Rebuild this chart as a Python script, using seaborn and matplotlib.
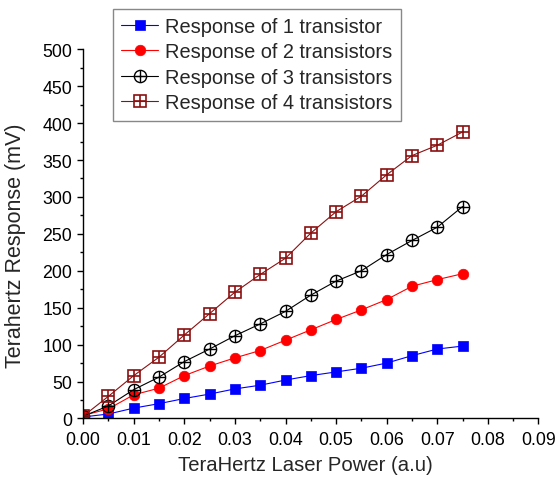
import numpy as np
import pandas as pd
import matplotlib
matplotlib.use("Agg")
import matplotlib.pyplot as plt
import seaborn as sns
from matplotlib.legend_handler import HandlerTuple
from matplotlib.ticker import MultipleLocator, FormatStrFormatter

# ---- data ----
power = [0.0, 0.005, 0.01, 0.015, 0.02, 0.025, 0.03, 0.035, 0.04, 0.045,
         0.05, 0.055, 0.06, 0.065, 0.07, 0.075]
resp_1 = [2, 6, 14, 20, 27, 33, 40, 45, 52, 58, 63, 68, 75, 85, 94, 98]
resp_2 = [4, 13, 32, 41, 58, 71, 82, 92, 106, 120, 134, 147, 161, 179, 188, 196]
resp_3 = [3, 17, 39, 56, 77, 94, 112, 128, 145, 167, 186, 200, 222, 241, 259, 287]
resp_4 = [3, 30, 58, 83, 113, 142, 171, 195, 217, 251, 280, 301, 330, 356, 370, 388]
labels = ["Response of 1 transistor", "Response of 2 transistors",
          "Response of 3 transistors", "Response of 4 transistors"]

sns.set_style("ticks")
plt.rcParams["font.family"] = ["Liberation Sans", "DejaVu Sans"]

fig = plt.figure(figsize=(5.58, 4.81), dpi=100)
ax = fig.add_axes([0.149, 0.128, 0.816, 0.7675])

df = pd.DataFrame({"power": power, "r1": resp_1, "r2": resp_2,
                   "r3": resp_3, "r4": resp_4})

blue, red, black, brown = "#0000FF", "#FF0000", "#000000", "#8B1010"

sns.lineplot(data=df, x="power", y="r1", ax=ax, color=blue, lw=0.8,
             marker="s", markersize=6.8, markerfacecolor=blue,
             markeredgecolor=blue, markeredgewidth=0.5)
sns.lineplot(data=df, x="power", y="r2", ax=ax, color=red, lw=0.8,
             marker="o", markersize=7.6, markerfacecolor=red,
             markeredgecolor=red, markeredgewidth=0.5)
sns.lineplot(data=df, x="power", y="r3", ax=ax, color=black, lw=0.8,
             marker="o", markersize=8.8, markerfacecolor="none",
             markeredgecolor=black, markeredgewidth=1.0)
sns.lineplot(data=df, x="power", y="r3", ax=ax, color=black, lw=0,
             marker="+", markersize=8.8, markeredgecolor=black,
             markeredgewidth=1.0)
sns.lineplot(data=df, x="power", y="r4", ax=ax, color=brown, lw=0.8,
             marker="s", markersize=8.0, markerfacecolor="none",
             markeredgecolor=brown, markeredgewidth=1.2)
sns.lineplot(data=df, x="power", y="r4", ax=ax, color=brown, lw=0,
             marker="+", markersize=8.0, markeredgecolor=brown,
             markeredgewidth=1.2)

lines = ax.get_lines()
handles = [lines[0], lines[1], (lines[2], lines[3]), (lines[4], lines[5])]

ax.set_xlim(0, 0.09)
ax.set_ylim(0, 500)
ax.xaxis.set_major_locator(MultipleLocator(0.01))
ax.xaxis.set_minor_locator(MultipleLocator(0.005))
ax.yaxis.set_major_locator(MultipleLocator(50))
ax.yaxis.set_minor_locator(MultipleLocator(25))
ax.xaxis.set_major_formatter(FormatStrFormatter("%.2f"))

sns.despine(ax=ax)
for s in ["left", "bottom"]:
    ax.spines[s].set_linewidth(1.0)
    ax.spines[s].set_color("black")
ax.tick_params(which="major", length=4.3, width=1.0, labelsize=12.8,
               color="black", labelcolor="black")
ax.tick_params(which="minor", length=2.3, width=1.0, color="black")
ax.tick_params(axis="x", which="major", pad=5)
ax.tick_params(axis="y", which="major", pad=3.5)
for l in ax.get_xticklabels() + ax.get_yticklabels():
    l.set_clip_on(False)
ax.margins(0)

ax.set_xlabel("TeraHertz Laser Power (a.u)", fontsize=14.6)
ax.set_ylabel("Terahertz Response (mV)", fontsize=15.5)
ax.xaxis.set_label_coords(0.489, -0.1)
ax.yaxis.set_label_coords(-0.125, 0.47)

leg = fig.legend(handles, labels, loc="upper left",
                 bbox_to_anchor=(112.7 / 558, 1 - 9.5 / 481),
                 bbox_transform=fig.transFigure, borderaxespad=0,
                 fontsize=14.4, frameon=True, fancybox=False,
                 handlelength=1.85, handletextpad=0.35, labelspacing=0.32,
                 borderpad=0.42, handler_map={tuple: HandlerTuple(ndivide=1)})
leg.get_frame().set_edgecolor("#888888")
leg.get_frame().set_linewidth(1.0)
leg.get_frame().set_alpha(1)

fig.savefig("out.png", dpi=100)
